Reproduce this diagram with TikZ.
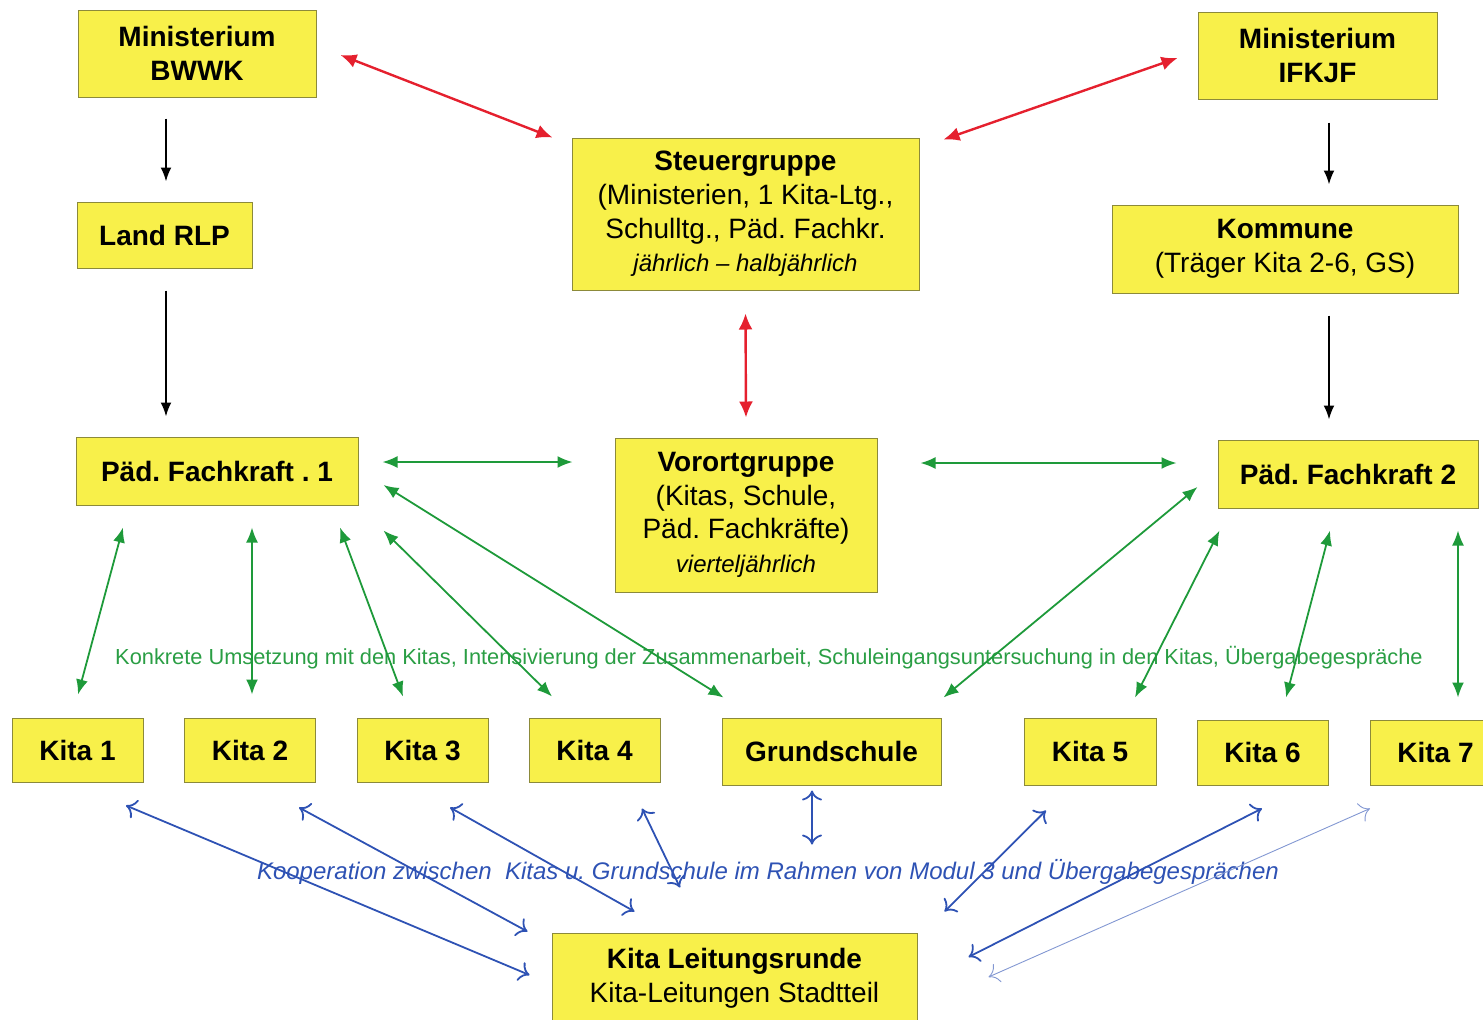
\documentclass[tikz,border=0pt]{standalone}
\usepackage{fontspec}
\setmainfont{Liberation Sans}
\usetikzlibrary{arrows.meta}
\frenchspacing
\begin{document}
\begin{tikzpicture}[x=0.5pt,y=-0.5pt,
  box/.style 2 args={fill=boxyellow,draw=boxedge,line width=0.5pt,align=center,
    inner sep=0pt,minimum width=#1*0.5pt,minimum height=#2*0.5pt,
    font=\fontsize{14}{16.8}\selectfont},
  down/.style={draw=black,line width=1pt,-{Latex[length=7pt,width=5.5pt]}},
  redway/.style={draw=wayred,line width=1.2pt,{Latex[length=8pt,width=7pt]}-{Latex[length=8pt,width=7pt]}},
  greenway/.style={draw=waygreen,line width=0.9pt,{Latex[length=7.5pt,width=6pt]}-{Latex[length=7.5pt,width=6pt]}},
  blueway/.style={draw=wayblue,line width=0.9pt,{To[length=5pt,width=10pt]}-{To[length=5pt,width=10pt]}},
  greennote/.style={text=notegreen,font=\fontsize{10.9}{12}\selectfont},
  bluenote/.style={text=wayblue,font=\fontsize{12}{14}\selectfont\itshape}]
  \definecolor{boxyellow}{HTML}{F8F04A}
  \definecolor{boxedge}{HTML}{8C8A3A}
  \definecolor{wayred}{HTML}{E5202E}
  \definecolor{waygreen}{HTML}{1E9A3A}
  \definecolor{notegreen}{HTML}{2A9E44}
  \definecolor{wayblue}{HTML}{2E52B4}
  \useasboundingbox (0,0) rectangle (1483,1019);
  % top row
  \node [box={238}{87}] (bwwk) at (197,53.5) {\bfseries Ministerium\\\bfseries BWWK};
  \node [box={239}{87}] (ifkjf) at (1317.5,55.5) {\bfseries Ministerium\\\bfseries IFKJF};
  \node [box={347}{152}] (steuer) at (745.5,214) {\textbf{Steuergruppe}\\(Ministerien, 1 Kita-Ltg.,\\Schulltg., Päd. Fachkr.\\{\fontsize{12}{14}\selectfont\itshape jährlich -- halbjährlich}};
  \node [box={175}{66}] (land) at (164.5,235) {\bfseries Land RLP};
  \node [box={346}{88}] (kommune) at (1285,249) {\textbf{Kommune}\\(Träger Kita 2-6, GS)};
  % middle row
  \node [box={282}{68}] (pf1) at (217,471) {\bfseries Päd. Fachkraft . 1};
  \node [box={262}{154}] (vorort) at (746,515) {\textbf{Vorortgruppe}\\(Kitas, Schule,\\Päd. Fachkräfte)\\{\fontsize{12}{14}\selectfont\itshape vierteljährlich}};
  \node [box={260}{68}] (pf2) at (1348,474) {\bfseries Päd. Fachkraft 2};
  % kitas and school
  \node [box={131}{64}] (kita1) at (77.5,750) {\bfseries Kita 1};
  \node [box={131}{64}] (kita2) at (250,750) {\bfseries Kita 2};
  \node [box={131}{64}] (kita3) at (422.5,750) {\bfseries Kita 3};
  \node [box={131}{64}] (kita4) at (594.5,750) {\bfseries Kita 4};
  \node [box={219}{67}] (grund) at (831.5,751.5) {\bfseries Grundschule};
  \node [box={132}{67}] (kita5) at (1090,751.5) {\bfseries Kita 5};
  \node [box={131}{65}] (kita6) at (1262.5,752.5) {\bfseries Kita 6};
  \node [box={131}{65}] (kita7) at (1435.5,752.5) {\bfseries Kita 7};
  \node [box={365}{90}] (leitung) at (734.5,978) {\textbf{Kita Leitungsrunde}\\Kita-Leitungen Stadtteil};
  % notes
  \node [greennote] (umsetzung) at (769,658) {Konkrete Umsetzung mit den Kitas, Intensivierung der Zusammenarbeit, Schuleingangsuntersuchung in den Kitas, Übergabegespräche};
  \node [bluenote] (kooperation) at (768,872) {Kooperation zwischen\ \ Kitas u. Grundschule im Rahmen von Modul 3 und Übergabegesprächen};
  % black lines
  \draw [down] ([shift={(-31,21)}]bwwk.south) -- ([shift={(1.5,-20)}]land.north);
  \draw [down] ([shift={(1.5,22)}]land.south) -- ([shift={(-51,-20)}]pf1.north);
  \draw [down] ([shift={(11.5,23)}]ifkjf.south) -- ([shift={(44,-20)}]kommune.north);
  \draw [down] ([shift={(44,22)}]kommune.south) -- ([shift={(-19,-20)}]pf2.north);
  % red lines
  \draw [redway] ([shift={(24,1.5)}]bwwk.east) -- ([shift={(-19,0)}]steuer.north west);
  \draw [redway] ([shift={(-20,2.5)}]ifkjf.west) -- ([shift={(24,2)}]steuer.north east);
  \draw [redway] ([shift={(0,23)}]steuer.south) -- ([shift={(0,-20)}]vorort.north);
  % green lines
  \draw [greenway] ([shift={(24,-9)}]pf1.east) -- ([shift={(-42,-53)}]vorort.west);
  \draw [greenway] ([shift={(43,-52)}]vorort.east) -- ([shift={(-41,-11)}]pf2.west);
  \draw [greenway] ([shift={(-94,22)}]pf1.south) -- ([shift={(0.5,-23)}]kita1.north);
  \draw [greenway] ([shift={(35,22)}]pf1.south) -- ([shift={(2,-23)}]kita2.north);
  \draw [greenway] ([shift={(123,22)}]pf1.south) -- ([shift={(-19.5,-21)}]kita3.north);
  \draw [greenway] ([shift={(25,25)}]pf1.south east) -- ([shift={(-42.5,-21)}]kita4.north);
  \draw [greenway] ([shift={(25,14)}]pf1.east) -- ([shift={(2,-20)}]grund.north west);
  \draw [greenway] ([shift={(-20,13)}]pf2.west) -- ([shift={(2,-20)}]grund.north east);
  \draw [greenway] ([shift={(2,22)}]pf2.south west) -- ([shift={(45,-20)}]kita5.north);
  \draw [greenway] ([shift={(-18,22)}]pf2.south) -- ([shift={(23.5,-22)}]kita6.north);
  \draw [greenway] ([shift={(110,22)}]pf2.south) -- ([shift={(22.5,-22)}]kita7.north);
  % blue lines
  \draw [blueway] ([shift={(48.5,23)}]kita1.south) -- ([shift={(-22,-3)}]leitung.west);
  \draw [blueway] ([shift={(49,25)}]kita2.south) -- ([shift={(-24,-1)}]leitung.north west);
  \draw [blueway] ([shift={(27.5,25)}]kita3.south) -- ([shift={(83,-21)}]leitung.north west);
  \draw [blueway] ([shift={(47.5,26)}]kita4.south) -- ([shift={(-54.5,-45)}]leitung.north);
  \draw [blueway] ([shift={(-19.5,5)}]grund.south) -- ([shift={(77.5,-88)}]leitung.north);
  \draw [blueway] ([shift={(-44,25)}]kita5.south) -- ([shift={(27,-21)}]leitung.north east);
  \draw [blueway] ([shift={(-0.5,23)}]kita6.south) -- ([shift={(51,-21)}]leitung.east);
  \draw [blueway,draw=wayblue!60,line width=0.45pt] ([shift={(-65.5,23)}]kita7.south) -- ([shift={(71,-1)}]leitung.east);
\end{tikzpicture}
\end{document}
